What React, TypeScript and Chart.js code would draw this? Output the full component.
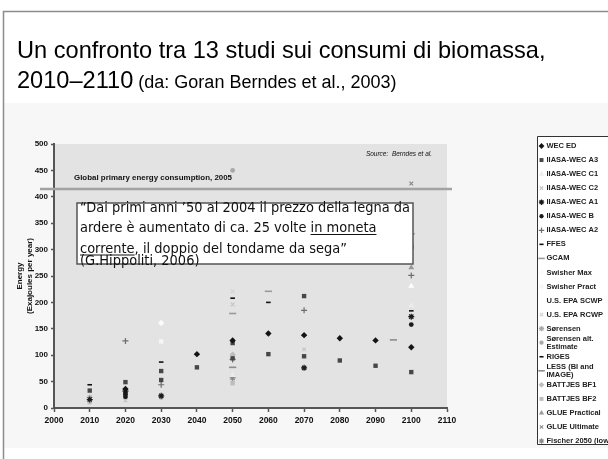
import React, { useEffect, useRef } from "react";
import { Chart, registerables } from "chart.js";
import { drawPoint } from "chart.js/helpers";

Chart.register(...registerables);

type Pt = [number, number];

// ---------- texts ----------
const TITLE_1 = "Un confronto tra 13 studi sui consumi di biomassa,";
const TITLE_2A = "2010–2110";
const TITLE_2B = " (da: Goran Berndes et al., 2003)";
const REF_LABEL = "Global primary energy consumption, 2005";
const SOURCE_LABEL = "Source:  Berndes et al.";
const Y_TITLE = ["Energy", "(Exajoules per year)"];
const QUOTE_LINES: { t: string; u?: boolean }[][] = [
  [{ t: "“Dai primi anni ’50 al 2004 il prezzo della legna da" }],
  [{ t: "ardere è aumentato di ca. 25 volte " }, { t: "in moneta", u: true }],
  [{ t: "corrente", u: true }, { t: ", il doppio del tondame da sega”" }],
  [{ t: "(G.Hippoliti, 2006)" }],
];

// ---------- axes ----------
const X_TICKS = [2000, 2010, 2020, 2030, 2040, 2050, 2060, 2070, 2080, 2090, 2100, 2110];
const Y_TICKS = [0, 50, 100, 150, 200, 250, 300, 350, 400, 450, 500];
const GLOBAL_PRIMARY_2005 = 415;

// ---------- series (year, EJ/yr) ----------
const wecEd: Pt[] = [[2020, 36], [2040, 102], [2050, 128], [2060, 141], [2070, 138], [2080, 132], [2090, 128], [2100, 115]];
const iiasaA3: Pt[] = [[2010, 33], [2020, 49], [2030, 70], [2030, 53], [2040, 77], [2050, 94], [2050, 123], [2060, 102], [2070, 98], [2070, 212], [2080, 90], [2090, 80], [2100, 68], [2100, 305]];
const iiasaC1: Pt[] = [[2050, 62], [2100, 194]];
const iiasaC2: Pt[] = [[2020, 14], [2050, 196], [2070, 111]];
const iiasaA1: Pt[] = [[2010, 16], [2020, 32], [2030, 23], [2070, 76], [2100, 173]];
const iiasaB: Pt[] = [[2020, 21], [2020, 26], [2100, 158]];
const iiasaA2: Pt[] = [[2020, 127], [2030, 44], [2050, 92], [2070, 185], [2100, 251]];
const ffes: Pt[] = [[2010, 44], [2030, 87], [2050, 208], [2060, 200]];
const gcam: Pt[] = [[2050, 179], [2060, 221], [2100, 330]];
const swisherMax: Pt[] = [[2030, 161]];
const swisherPract: Pt[] = [[2030, 126]];
const epaScwp: Pt[] = [[2100, 231]];
const epaRcwp: Pt[] = [[2050, 221], [2100, 294]];
const sorensen: Pt[] = [[2010, 20]];
const sorensenAlt: Pt[] = [[2030, 20], [2050, 450]];
const riges: Pt[] = [[2100, 184]];
const less: Pt[] = [[2050, 77], [2095, 129]];
const battjesBf1: Pt[] = [[2050, 101]];
const battjesBf2: Pt[] = [[2010, 11], [2020, 28], [2050, 47]];
const gluePractical: Pt[] = [[2100, 266]];
const glueUltimate: Pt[] = [[2100, 425]];
const fischer2050: Pt[] = [[2050, 57]];

const SERIES: { label: string[]; data: Pt[]; style: string }[] = [
  { label: ["WEC ED"], data: wecEd, style: "blackDiamond" },
  { label: ["IIASA-WEC A3"], data: iiasaA3, style: "darkSquare" },
  { label: ["IIASA-WEC C1"], data: iiasaC1, style: "paleTriangle" },
  { label: ["IIASA-WEC C2"], data: iiasaC2, style: "lightX" },
  { label: ["IIASA-WEC A1"], data: iiasaA1, style: "blackStar" },
  { label: ["IIASA-WEC B"], data: iiasaB, style: "blackCircle" },
  { label: ["IIASA-WEC A2"], data: iiasaA2, style: "grayPlus" },
  { label: ["FFES"], data: ffes, style: "blackDash" },
  { label: ["GCAM"], data: gcam, style: "grayLongDash" },
  { label: ["Swisher Max"], data: swisherMax, style: "whiteDiamond" },
  { label: ["Swisher Pract"], data: swisherPract, style: "whiteSquare" },
  { label: ["U.S. EPA SCWP"], data: epaScwp, style: "whiteTriangle" },
  { label: ["U.S. EPA RCWP"], data: epaRcwp, style: "paleX" },
  { label: ["Sørensen"], data: sorensen, style: "lightStar" },
  { label: ["Sørensen alt.", "Estimate"], data: sorensenAlt, style: "lightCircle" },
  { label: ["RIGES"], data: riges, style: "blackDash" },
  { label: ["LESS (BI and", "IMAGE)"], data: less, style: "midLongDash" },
  { label: ["BATTJES BF1"], data: battjesBf1, style: "lightDiamond" },
  { label: ["BATTJES BF2"], data: battjesBf2, style: "lightSquare" },
  { label: ["GLUE Practical"], data: gluePractical, style: "grayTriangle" },
  { label: ["GLUE Ultimate"], data: glueUltimate, style: "grayX" },
  { label: ["Fischer 2050 (low)"], data: fischer2050, style: "grayStar" },
];

// ---------- styles ----------
const STYLES: Record<string, { shape: string; fill: string; stroke: string; r: number; bw: number }> = {
  blackDiamond: { shape: "rectRot", fill: "#141414", stroke: "#141414", r: 3.2, bw: 0 },
  darkSquare: { shape: "rect", fill: "#474747", stroke: "#474747", r: 3.1, bw: 0 },
  paleTriangle: { shape: "triangle", fill: "#ececec", stroke: "#ececec", r: 3.4, bw: 0 },
  lightX: { shape: "crossRot", fill: "#c4c4c4", stroke: "#c4c4c4", r: 2.6, bw: 1.1 },
  blackStar: { shape: "star", fill: "#1a1a1a", stroke: "#1a1a1a", r: 3, bw: 1.2 },
  blackCircle: { shape: "circle", fill: "#1a1a1a", stroke: "#1a1a1a", r: 2.4, bw: 0 },
  grayPlus: { shape: "cross", fill: "#6e6e6e", stroke: "#6e6e6e", r: 3, bw: 1.2 },
  blackDash: { shape: "line", fill: "#111111", stroke: "#111111", r: 2.3, bw: 1.6 },
  grayLongDash: { shape: "line", fill: "#9a9a9a", stroke: "#9a9a9a", r: 3.6, bw: 1.6 },
  whiteDiamond: { shape: "rectRot", fill: "#fbfbfb", stroke: "#fbfbfb", r: 3.2, bw: 0 },
  whiteSquare: { shape: "rect", fill: "#f6f6f6", stroke: "#f6f6f6", r: 3.1, bw: 0 },
  whiteTriangle: { shape: "triangle", fill: "#ffffff", stroke: "#ffffff", r: 3.4, bw: 0 },
  paleX: { shape: "crossRot", fill: "#d2d2d2", stroke: "#d2d2d2", r: 2.6, bw: 1.1 },
  lightStar: { shape: "star", fill: "#aaaaaa", stroke: "#aaaaaa", r: 3, bw: 1.1 },
  lightCircle: { shape: "circle", fill: "#a8a8a8", stroke: "#a8a8a8", r: 2.4, bw: 0 },
  midLongDash: { shape: "line", fill: "#8c8c8c", stroke: "#8c8c8c", r: 3.6, bw: 1.6 },
  lightDiamond: { shape: "rectRot", fill: "#bdbdbd", stroke: "#bdbdbd", r: 3.2, bw: 0 },
  lightSquare: { shape: "rect", fill: "#bdbdbd", stroke: "#bdbdbd", r: 3.1, bw: 0 },
  grayTriangle: { shape: "triangle", fill: "#9a9a9a", stroke: "#9a9a9a", r: 3.4, bw: 0 },
  grayX: { shape: "crossRot", fill: "#8a8a8a", stroke: "#8a8a8a", r: 2.6, bw: 1.1 },
  grayStar: { shape: "star", fill: "#8a8a8a", stroke: "#8a8a8a", r: 3, bw: 1.1 },
};

// ---------- layout ----------
const W = 608;
const H = 459;
const PLOT = { left: 54, right: 447, top: 144, bottom: 408 };
const SANS = "'Liberation Sans', Arial, Helvetica, sans-serif";
const QUOTE_FONT = "'DejaVu Sans', Verdana, sans-serif";

function fitText(ctx: CanvasRenderingContext2D, text: string, x: number, y: number, width: number | null, sx = 1) {
  const w = ctx.measureText(text).width;
  const s = width ? width / w : sx;
  ctx.save();
  ctx.translate(x, y);
  ctx.scale(s, 1);
  ctx.fillText(text, 0, 0);
  ctx.restore();
  return w * s;
}

const slidePlugin = {
  id: "slide",
  beforeDraw(chart: any) {
    const ctx: CanvasRenderingContext2D = chart.ctx;
    const ca = chart.chartArea;
    ctx.save();
    ctx.fillStyle = "#ffffff";
    ctx.fillRect(0, 0, W, H);
    // chart panel
    ctx.fillStyle = "#f7f7f7";
    ctx.fillRect(4, 103, W - 4, 345);
    // frame
    ctx.strokeStyle = "#8c8c8c";
    ctx.lineWidth = 1.5;
    ctx.beginPath();
    ctx.moveTo(3.5, H);
    ctx.lineTo(3.5, 11.5);
    ctx.lineTo(W, 11.5);
    ctx.stroke();
    // title
    ctx.fillStyle = "#000";
    ctx.textBaseline = "alphabetic";
    ctx.font = `23.6px ${SANS}`;
    ctx.fillText(TITLE_1, 17, 58);
    const w2 = ctx.measureText(TITLE_2A).width;
    ctx.fillText(TITLE_2A, 17, 88);
    ctx.font = `18px ${SANS}`;
    ctx.fillText(TITLE_2B, 17 + w2, 88);
    // plot background
    ctx.fillStyle = "#e3e3e3";
    ctx.fillRect(ca.left, ca.top, ca.right - ca.left, ca.bottom - ca.top);
    ctx.restore();
  },
  beforeDatasetsDraw(chart: any) {
    const ctx: CanvasRenderingContext2D = chart.ctx;
    const y = chart.scales.y.getPixelForValue(GLOBAL_PRIMARY_2005);
    ctx.save();
    ctx.strokeStyle = "#a3a3a3";
    ctx.lineWidth = 2.5;
    ctx.beginPath();
    ctx.moveTo(40, y);
    ctx.lineTo(chart.chartArea.right + 5, y);
    ctx.stroke();
    ctx.restore();
  },
  afterDraw(chart: any) {
    const ctx: CanvasRenderingContext2D = chart.ctx;
    const ca = chart.chartArea;
    const ys = chart.scales.y;
    ctx.save();
    // annotations
    ctx.fillStyle = "#111";
    ctx.textBaseline = "middle";
    ctx.font = `bold 6.5px ${SANS}`;
    fitText(ctx, REF_LABEL, 74, ys.getPixelForValue(GLOBAL_PRIMARY_2005) - 11, 158);
    ctx.font = `italic 6.5px ${SANS}`;
    ctx.textAlign = "right";
    ctx.fillText(SOURCE_LABEL, ca.right - 15, 154);
    ctx.textAlign = "left";
    // y title
    ctx.font = `bold 8px ${SANS}`;
    ctx.textAlign = "center";
    const cy = (ca.top + ca.bottom) / 2;
    [20, 30].forEach((x, i) => {
      ctx.save();
      ctx.translate(x, cy);
      ctx.rotate(-Math.PI / 2);
      ctx.fillText(Y_TITLE[i], 0, 0);
      ctx.restore();
    });
    ctx.textAlign = "left";

    // quote box
    ctx.fillStyle = "#ffffff";
    ctx.fillRect(77, 203, 336, 61);
    ctx.strokeStyle = "#555";
    ctx.lineWidth = 1.5;
    ctx.strokeRect(77, 203, 336, 61);
    ctx.fillStyle = "#111";
    ctx.strokeStyle = "#111";
    ctx.lineWidth = 1;
    ctx.textBaseline = "alphabetic";
    ctx.font = `13.5px ${QUOTE_FONT}`;
    const full1 = QUOTE_LINES[0].map((s) => s.t).join("");
    const sx = 330 / ctx.measureText(full1).width;
    const baselines = [211.5, 232, 252.5, 265];
    QUOTE_LINES.forEach((segs, li) => {
      let x = 80;
      segs.forEach((sg) => {
        const w = fitText(ctx, sg.t, x, baselines[li], null, sx);
        if (sg.u) {
          ctx.beginPath();
          ctx.moveTo(x, baselines[li] + 2.5);
          ctx.lineTo(x + w, baselines[li] + 2.5);
          ctx.stroke();
        }
        x += w;
      });
    });

    // legend
    const LX = 537, LT = 136, LB = 444, FIRST = 146, STEP = 14.05;
    ctx.fillStyle = "#ffffff";
    ctx.fillRect(LX, LT, W - LX, LB - LT);
    ctx.textBaseline = "middle";
    ctx.font = `bold 7.5px ${SANS}`;
    chart.data.datasets.forEach((ds: any, i: number) => {
      const y = FIRST + i * STEP;
      ctx.fillStyle = ds.backgroundColor;
      ctx.strokeStyle = ds.borderColor;
      ctx.lineWidth = ds.borderWidth || 0;
      drawPoint(ctx, { pointStyle: ds.pointStyle, radius: ds.pointRadius * 0.9, borderWidth: ds.borderWidth || 0, rotation: 0 } as any, 541.5, y);
      ctx.fillStyle = "#222";
      SERIES[i].label.forEach((t, k) => ctx.fillText(t, 546.5, y - (SERIES[i].label.length > 1 ? 4 : 0) + k * 8));
    });
    ctx.strokeStyle = "#333";
    ctx.lineWidth = 1;
    ctx.beginPath();
    ctx.moveTo(W, LT + 0.5);
    ctx.lineTo(LX + 0.5, LT + 0.5);
    ctx.lineTo(LX + 0.5, LB + 0.5);
    ctx.lineTo(W, LB + 0.5);
    ctx.stroke();
    ctx.restore();
  },
};

export default function App() {
  const ref = useRef<HTMLCanvasElement | null>(null);
  useEffect(() => {
    if (!ref.current) return;
    const datasets = SERIES.map((s) => {
      const st = STYLES[s.style];
      return {
        label: s.label.join(" "),
        data: s.data.map(([x, y]) => ({ x, y })),
        pointStyle: st.shape,
        pointRadius: st.r,
        backgroundColor: st.fill,
        borderColor: st.stroke,
        borderWidth: st.bw,
        showLine: false,
      };
    });
    const chart = new Chart(ref.current, {
      type: "scatter",
      data: { datasets } as any,
      options: {
        responsive: false,
        animation: false,
        devicePixelRatio: 1,
        layout: { padding: { left: 0, right: W - PLOT.right, top: PLOT.top, bottom: 0 } },
        plugins: { legend: { display: false }, tooltip: { enabled: false }, title: { display: false } },
        scales: {
          x: {
            type: "linear",
            min: 2000,
            max: 2110,
            afterBuildTicks: (s: any) => {
              s.ticks = X_TICKS.map((v) => ({ value: v }));
            },
            afterFit: (s: any) => {
              s.height = H - PLOT.bottom;
            },
            grid: { display: true, drawOnChartArea: false, drawTicks: true, tickLength: 4, tickColor: "#555", tickWidth: 1.5 },
            border: { display: true, color: "#555", width: 2 },
            ticks: { color: "#111", font: { family: SANS, size: 8.5, weight: "bold" }, padding: 4, maxRotation: 0, autoSkip: false, callback: (v: any) => String(v) },
          },
          y: {
            type: "linear",
            min: 0,
            max: 500,
            afterBuildTicks: (s: any) => {
              s.ticks = Y_TICKS.map((v) => ({ value: v }));
            },
            afterFit: (s: any) => {
              s.width = PLOT.left;
            },
            grid: { display: true, drawOnChartArea: false, drawTicks: true, tickLength: 3, tickColor: "#555", tickWidth: 1.5 },
            border: { display: true, color: "#555", width: 2 },
            ticks: { color: "#111", font: { family: SANS, size: 8, weight: "bold" }, padding: 3, autoSkip: false, callback: (v: any) => String(v) },
          },
        },
      } as any,
      plugins: [slidePlugin],
    });
    return () => chart.destroy();
  }, []);
  return (
    <div style={{ position: "absolute", left: 0, top: 0, width: W, height: H }}>
      <canvas ref={ref} width={W} height={H} style={{ display: "block", width: W, height: H }} />
    </div>
  );
}
